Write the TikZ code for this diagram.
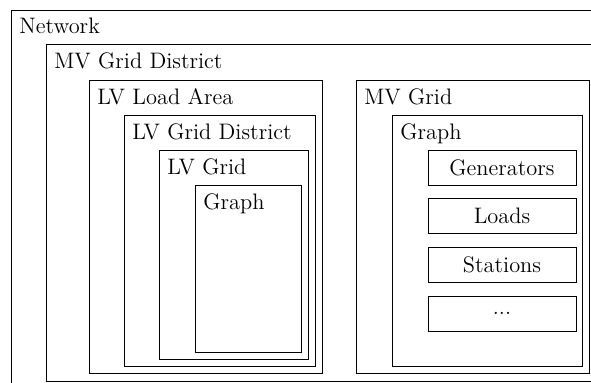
\documentclass[tikz,border=0pt]{standalone}
\usepackage{fontspec}

\begin{document}
\begin{tikzpicture}[x=0.5pt, y=-0.5pt, font=\fontsize{11.2pt}{13pt}\selectfont, title/.style={anchor=north west, inner sep=4pt}, item/.style={draw, minimum width=74pt, minimum height=17.5pt, inner sep=0pt}]
\useasboundingbox (0,0) rectangle (591,383);
\clip (0,0) rectangle (591,383);
\draw (11,10) rectangle (620,420);
\node[title] (network) at (11,10) {Network};
\draw (46,44) rectangle (620,381);
\node[title] (mvdistrict) at (46,44) {MV Grid District};
\draw (89,80) rectangle (322,373);
\node[title] (loadarea) at (89,80) {LV Load Area};
\draw (124,115) rectangle (315,366);
\node[title] (lvdistrict) at (124,115) {LV Grid District};
\draw (159,150) rectangle (308,359);
\node[title] (lvgrid) at (159,150) {LV Grid};
\draw (195,185) rectangle (301,352);
\node[title] (lvgraph) at (195,185) {Graph};
\draw (356,80) rectangle (589,373);
\node[title] (mvgrid) at (356,80) {MV Grid};
\draw (392,115) rectangle (582,366);
\node[title] (mvgraph) at (392,115) {Graph};
\node[item] (generators) at (502,167.5) {Generators};
\node[item] (loads) at (502,215.5) {Loads};
\node[item] (stations) at (502,264.5) {Stations};
\node[item] (more) at (502,313.5) {...};
\end{tikzpicture}
\end{document}
